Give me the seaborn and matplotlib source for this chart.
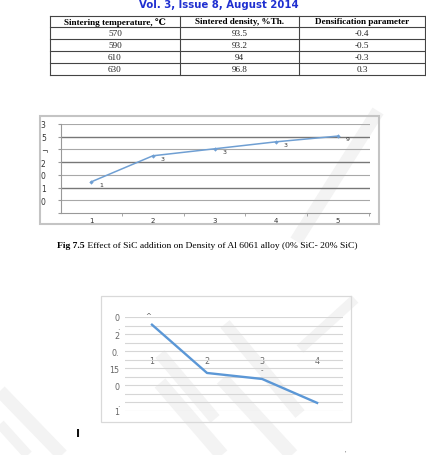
import matplotlib
matplotlib.use("Agg")
import matplotlib.pyplot as plt
from matplotlib.lines import Line2D
from matplotlib.patches import Rectangle
import seaborn as sns
import pandas as pd

# ---------------- data ----------------
table_header = ["Sintering temperature, \u2103", "Sintered density, %Th.", "Densification parameter"]
temps = ["570", "590", "610", "630"]
density = ["93.5", "93.2", "94", "96.8"]
densification = ["-0.4", "-0.5", "-0.3", "0.3"]

c1_x = [1, 2, 3, 4, 5]
c1_y = [2.45, 4.5, 5.05, 5.6, 6.05]
c1_xlabels = ["1", "2", "3", "4", "5"]
c1_yticks = [0, 1, 2, 3, 4, 5, 6, 7]
c1_ylabels = ["", "0", "1", "0", "2", "\u00ac", "5", "3"]
c1_pointlabels = ["1", "3", "3", "3", "9"]

c2_x = [1, 2, 3, 4]
c2_y = [10.1, 4.45, 3.75, 0.95]
c2_xlabels = ["1", "2", "3", "4"]
c2_yticks = list(range(12))
c2_ylabels = ["1", ".", "", "0", "", "15", "", "0.", "", "2", ".", "0"]
c2_pointlabels = ["^", "", "-", ""]

caption_bold = "Fig 7.5"
caption_rest = " Effect of SiC addition on Density of Al 6061 alloy (0% SiC- 20% SiC)"
header_text = "Vol. 3, Issue 8, August 2014"

# ---------------- figure ----------------
W, H = 427, 456
fig = plt.figure(figsize=(W / 100, H / 100), dpi=100)
fig.patch.set_facecolor("white")


def fx(x):
    return x / W


def fy(y):
    return 1 - y / H


# watermark stripes (very light grey, behind everything)
stripes = [
    ((378, 112), (296, 242), 13),
    ((0, 392), (62, 456), 13),
    ((0, 425), (28, 456), 10),
    ((160, 384), (222, 456), 14),
    ((222, 380), (292, 456), 14),
    ((160, 355), (215, 420), 12),
    ((225, 325), (300, 415), 12),
    ((355, 300), (300, 350), 10),
]
for (x0, y0), (x1, y1), w in stripes:
    fig.add_artist(Line2D([fx(x0), fx(x1)], [fy(y0), fy(y1)], lw=w * 0.72,
                          color="#f3f3f3", solid_capstyle="butt", zorder=0))

# header
fig.text(fx(219), fy(8), header_text, color="#1f2fd0", fontsize=7.3,
         fontweight="bold", ha="center", va="baseline", family="DejaVu Sans")

# ---------------- table ----------------
serif = ["Liberation Serif", "DejaVu Serif"]
row_y = [17, 28, 40, 52, 64, 76]
col_x = [50, 180, 299, 425]
for y in row_y:
    fig.add_artist(Line2D([fx(col_x[0]), fx(col_x[-1])], [fy(y), fy(y)],
                          lw=0.8, color="#444444"))
for x in col_x:
    fig.add_artist(Line2D([fx(x), fx(x)], [fy(row_y[0]), fy(row_y[-1])],
                          lw=0.8, color="#444444"))
col_c = [(col_x[i] + col_x[i + 1]) / 2 for i in range(3)]
for i, t in enumerate(table_header):
    fig.text(fx(col_c[i]), fy((row_y[0] + row_y[1]) / 2), t, fontsize=6.6,
             fontweight="bold", ha="center", va="center", family=serif)
for r, vals in enumerate(zip(temps, density, densification)):
    yc = (row_y[r + 1] + row_y[r + 2]) / 2
    for i, v in enumerate(vals):
        fig.text(fx(col_c[i]), fy(yc), v, fontsize=6.6, ha="center",
                 va="center", family=serif, color="#222222")

# ---------------- chart 1 ----------------
fig.add_artist(Rectangle((fx(40), fy(225)), fx(379) - fx(40), fy(117) - fy(225),
                         fill=False, edgecolor="#c4c4c4", lw=1.5, zorder=1))
ax1 = fig.add_axes([fx(61), fy(214), fx(370) - fx(61), fy(125) - fy(214)])
ax1.set_facecolor("none")
df1 = pd.DataFrame({"x": c1_x, "y": c1_y})
sns.lineplot(data=df1, x="x", y="y", ax=ax1, color="#6f9fd3", lw=1.1,
             marker="D", markersize=2.2, markeredgewidth=0)
for xv, yv, lab in zip(c1_x, c1_y, c1_pointlabels):
    ax1.annotate(lab, (xv, yv), xytext=(7, -2), textcoords="offset points",
                 fontsize=4.5, color="#333333", ha="center", va="center")
ax1.set_xlim(0.51, 5.52)
ax1.set_ylim(0, 7)
ax1.set_xlabel("")
ax1.set_ylabel("")
ax1.set_xticks(c1_x)
ax1.set_xticklabels(c1_xlabels, fontsize=5, color="#333333")
ax1.set_xticks([1.5, 2.5, 3.5, 4.5, 5.5], minor=True)
ax1.tick_params(axis="x", which="major", length=0, pad=3)
ax1.tick_params(axis="x", which="minor", length=2.5, color="#999999", direction="out")
ax1.set_yticks(c1_yticks)
ax1.set_yticklabels(c1_ylabels, fontsize=5.5, color="#333333")
ax1.tick_params(axis="y", length=2.5, color="#999999", pad=12)
for lbl in ax1.get_yticklabels():
    lbl.set_ha("left")
ax1.grid(axis="y", color="#a8a8a8", lw=0.8)
ax1.grid(axis="x", visible=False)
for i, gl in enumerate(ax1.get_ygridlines()):
    if i in (2, 4, 6):
        gl.set_color("#777777")
        gl.set_linewidth(1.0)
    elif i == 0:
        gl.set_visible(False)
for s in ("top", "right"):
    ax1.spines[s].set_visible(False)
for s in ("left", "bottom"):
    ax1.spines[s].set_color("#999999")
    ax1.spines[s].set_linewidth(0.8)
ax1.set_zorder(2)

# caption
cap_x = fx(57)
t1 = fig.text(cap_x, fy(246), caption_bold, fontsize=6.8, fontweight="bold",
              ha="left", va="center", family=serif)
fig.canvas.draw()
bb = t1.get_window_extent()
fig.text(bb.x1 / (W), fy(246), caption_rest, fontsize=6.8, ha="left",
         va="center", family=serif)

# ---------------- chart 2 ----------------
fig.add_artist(Rectangle((fx(101), fy(423)), fx(351) - fx(101), fy(297) - fy(423),
                         fill=False, edgecolor="#d9d9d9", lw=0.9, zorder=1))
ax2 = fig.add_axes([fx(125), fy(412), fx(343) - fx(125), fy(318) - fy(412)])
ax2.set_facecolor("none")
ax2.spines["bottom"].set_position(("data", 6.7))
df2 = pd.DataFrame({"x": c2_x, "y": c2_y})
sns.lineplot(data=df2, x="x", y="y", ax=ax2, color="#5b97d6", lw=1.7)
for xv, yv, lab in zip(c2_x, c2_y, c2_pointlabels):
    if lab:
        ax2.annotate(lab, (xv, yv), xytext=(-3 if lab == "^" else 0, 7),
                     textcoords="offset points", fontsize=5, color="#555555",
                     ha="center", va="center")
ax2.set_xlim(0.51, 4.47)
ax2.set_ylim(0, 11)
ax2.set_xlabel("")
ax2.set_ylabel("")
ax2.set_xticks(c2_x)
ax2.set_xticklabels(c2_xlabels)
ax2.tick_params(axis="x", length=0, pad=1.5, labelsize=5.8, labelcolor="#666666")
ax2.set_yticks(c2_yticks)
ax2.set_yticklabels(c2_ylabels)
ax2.tick_params(axis="y", length=0, pad=4, labelsize=5.8, labelcolor="#666666")
ax2.grid(axis="y", color="#d6d6d6", lw=0.8)
ax2.grid(axis="x", visible=False)
for s in ax2.spines.values():
    s.set_visible(False)
ax2.set_zorder(2)

# stray marks
fig.text(fx(78), fy(434), "I", fontsize=8, fontweight="bold", ha="center",
         va="center", family="DejaVu Sans", color="#111111")
fig.text(fx(345), fy(453), "'", fontsize=4, ha="center", va="center",
         color="#555555")

fig.savefig("out.png", dpi=100)
